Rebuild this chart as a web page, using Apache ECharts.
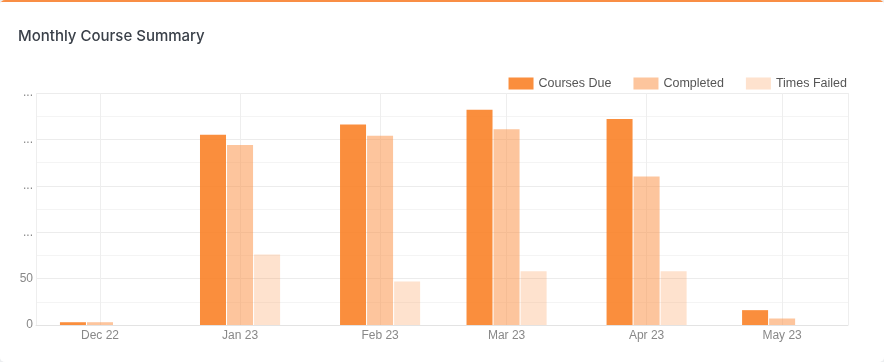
<!DOCTYPE html>
<html>
<head>
<meta charset="utf-8">
<script src="https://cdn.jsdelivr.net/npm/echarts@6/dist/echarts.min.js"></script>
<style>
html,body{margin:0;padding:0;background:#eceef0;}
#card{position:absolute;left:0;top:0;width:884px;height:362px;background:#fff;border-radius:5px;overflow:hidden;}
#chart{width:884px;height:362px;}
</style>
</head>
<body>
<div id="card"><div id="chart"></div></div>
<script>
const months = ['2022-12-01','2023-01-01','2023-02-01','2023-03-01','2023-04-01','2023-05-01'];
const coursesDue = [3, 205, 216, 232, 222, 16];
const completed = [3, 194, 204, 211, 160, 7];
const timesFailed = [0, 76, 47, 58, 58, 0];
const yTicks = [0, 50, 100, 150, 200, 250];
const monthNames = ['Jan','Feb','Mar','Apr','May','Jun','Jul','Aug','Sep','Oct','Nov','Dec'];

const DAY = 86400000;
const gridLeft = 36, gridRight = 36, chartW = 884;
const barW = 26, barGapPct = 0.04;
const axisLen = chartW - gridLeft - gridRight;
// desired visible time range
const wantMin = new Date(2022, 10, 16, 20).getTime();
const wantMax = new Date(2023, 4, 15, 14).getTime();
// ECharts widens a bar base axis so the bar groups fit; pre-shrink to compensate
const groupW = 3 * barW + 2 * barW * barGapPct;
const shrink = (wantMax - wantMin) * (groupW / 2) / axisLen;
const xMin = wantMin + shrink;
const xMax = wantMax - shrink;

function pairs(vals){ return months.map((m,i)=>[m, vals[i]]); }

const chart = echarts.init(document.getElementById('chart'), null, {renderer:'canvas'});
chart.setOption({
  animation:false,
  backgroundColor:'#fff',
  graphic:[{type:'rect', left:0, top:0, shape:{width:884, height:2}, style:{fill:'#f98e45'}}],
  title:{text:'Monthly Course Summary', left:13, top:24,
    textStyle:{fontFamily:'Inter', fontSize:15, fontWeight:500, color:'#3a4049'}},
  legend:{right:32, top:72, itemWidth:25, itemHeight:12, itemGap:22, icon:'rect',
    textStyle:{fontFamily:'Liberation Sans', fontSize:12.5, color:'#555', padding:[0,0,0,0]},
    data:['Courses Due','Completed','Times Failed']},
  grid:{left:gridLeft, right:gridRight, top:93, bottom:37, containLabel:false},
  xAxis:{type:'time', min:xMin, max:xMax, splitNumber:6, minInterval:28*DAY, maxInterval:31*DAY,
    axisLine:{lineStyle:{color:'#e3e3e3'}}, axisTick:{show:false},
    splitLine:{show:true, lineStyle:{color:'#eeeeee'}},
    axisLabel:{margin:5, color:'#888', fontFamily:'Liberation Sans', fontSize:12,
      formatter:function(v){const d=new Date(v); return monthNames[d.getMonth()]+' '+String(d.getFullYear()).slice(2);}}},
  yAxis:{type:'value', min:yTicks[0], max:yTicks[yTicks.length-1], interval:50,
    axisLine:{show:false}, axisTick:{show:false},
    splitLine:{lineStyle:{color:'#ececec'}},
    minorTick:{show:false, splitNumber:2},
    minorSplitLine:{show:true, lineStyle:{color:'#f4f4f4'}},
    axisLabel:{margin:3, color:'#888', fontFamily:'Liberation Sans', fontSize:12,
      formatter:function(v){return v>=100?'...':String(v);}}},
  series:[
    {name:'Courses Due', type:'bar', barWidth:barW, barGap:(barGapPct*100)+'%', data:pairs(coursesDue),
      itemStyle:{color:'rgba(250,130,40,0.9)'}},
    {name:'Completed', type:'bar', barWidth:barW, barGap:(barGapPct*100)+'%', data:pairs(completed),
      itemStyle:{color:'rgba(252,140,60,0.5)'}},
    {name:'Times Failed', type:'bar', barWidth:barW, barGap:(barGapPct*100)+'%', data:pairs(timesFailed),
      itemStyle:{color:'rgba(252,140,60,0.25)'}}
  ]
});
</script>
</body>
</html>
